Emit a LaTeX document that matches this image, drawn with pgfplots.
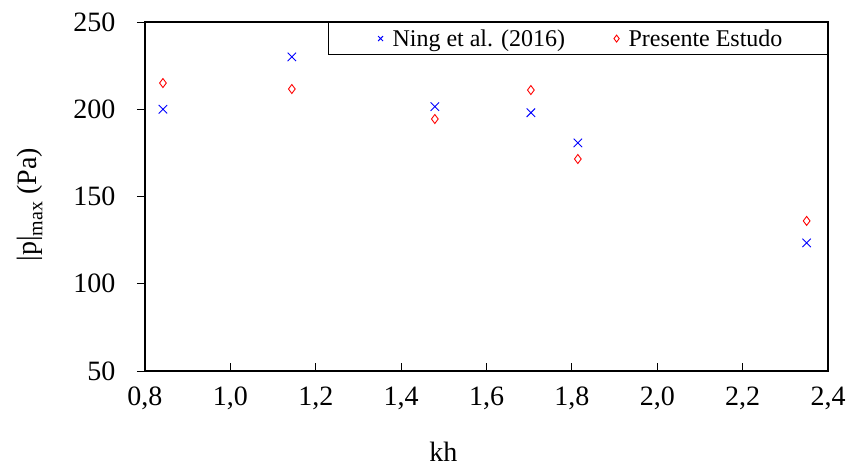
\documentclass[border=0pt]{standalone}
\usepackage{fontspec}
\setmainfont{Liberation Serif}
\usepackage{pgfplots}
\pgfplotsset{compat=1.18}
\begin{document}
\begin{tikzpicture}
\begin{axis}[
  scale only axis,
  width=683pt, height=349pt,
  xmin=0.8, xmax=2.4, ymin=50, ymax=250,
  xtick={0.8,1.0,...,2.4},
  ytick={50,100,150,200,250},
  /pgf/number format/assume math mode=true,
  tick label style={font=\fontsize{28}{32}\selectfont},
  label style={font=\fontsize{28}{32}\selectfont},
  xticklabel style={/pgf/number format/fixed, /pgf/number format/fixed zerofill, /pgf/number format/precision=1, /pgf/number format/use comma},
  xticklabel shift=12pt,
  yticklabel style={anchor=east, xshift=-26pt},
  tick align=inside,
  xtick pos=bottom, ytick pos=left,
  major tick length=8pt,
  ytick style={xshift=-8pt},
  tick style={black, line width=0.8pt},
  axis line style={line width=1.3pt},
  xlabel={kh},
  ylabel={|p|{\raisebox{-0.2em}{\fontsize{20}{24}\selectfont max}} (Pa)},
  xlabel style={at={(axis description cs:0.437,-0.232)}, anchor=center},
  ylabel style={at={(axis description cs:-0.1684,0.476)}, anchor=center},
  legend style={at={(1,1)}, anchor=north east, legend columns=2, draw=black, line width=1pt,
    inner xsep=43pt, inner ysep=5pt, font=\fontsize{24}{28}\selectfont,
    /tikz/every even column/.append style={column sep=40pt}},
  legend image code/.code={\draw[mark size=3.5pt] plot coordinates {(0cm,0cm)}; \path (-9pt,0pt) (9.5pt,0pt);},
]
\addplot[only marks, mark=x, mark size=6pt, draw=blue, line width=0.9pt, mark options={solid}]
coordinates {(0.842,200) (1.144,230) (1.479,201.5) (1.704,198) (1.814,180.7) (2.350,123.4)};
\addlegendentry{Ning et al. (2016)}
\addplot[only marks, mark=diamond, mark size=4.5pt, draw=red, line width=0.9pt]
coordinates {(0.842,215) (1.144,211.6) (1.479,194.4) (1.704,211) (1.814,171.5) (2.350,136)};
\addlegendentry{Presente Estudo}
\end{axis}
\pgfresetboundingbox
\path ([xshift=-145pt,yshift=-96pt]current axis.south west) rectangle ([xshift=22pt,yshift=22pt]current axis.north east);
\end{tikzpicture}
\end{document}
